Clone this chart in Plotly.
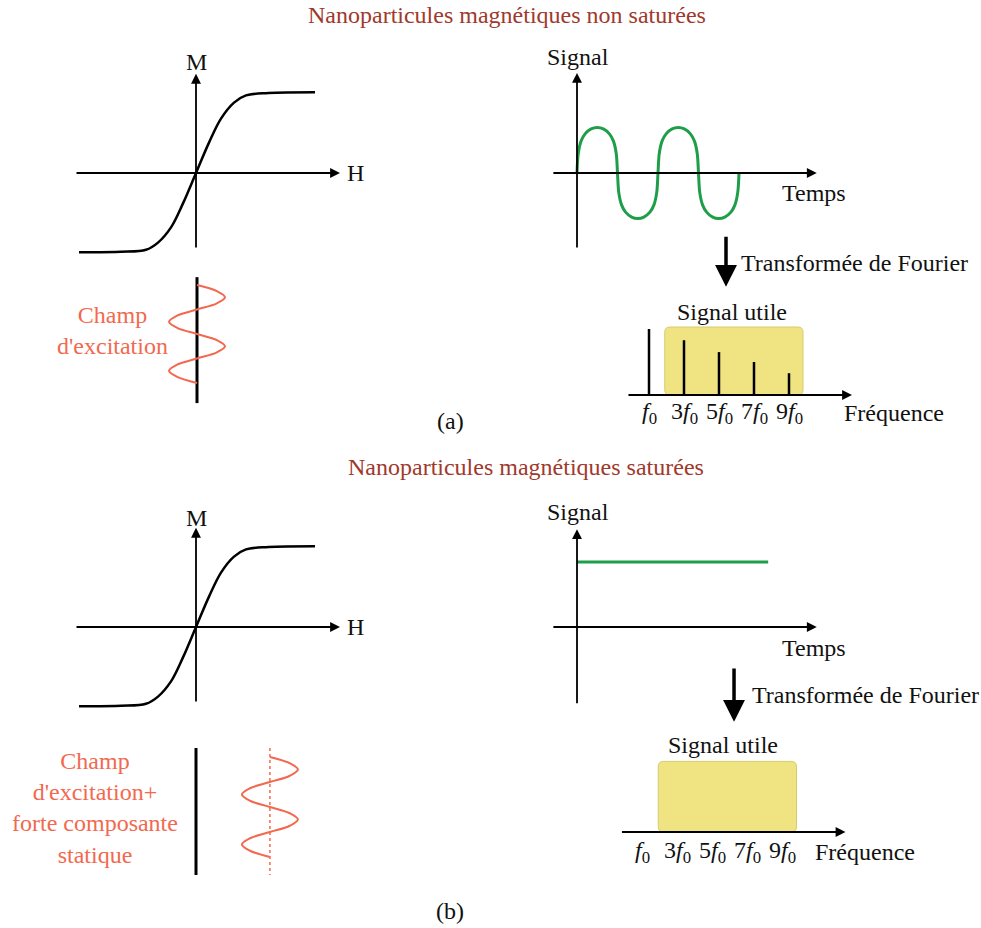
import plotly.graph_objects as go

W, H = 981, 928
FONT = "Liberation Serif, Times New Roman, serif"
FS = 24
RED = "#F2694F"
TITLE_RED = "#A0392C"
GREEN = "#1F9E4A"
YELLOW = "#F0E482"

# ---------------- data ----------------
# magnetisation curve M(H), normalised units
mh_h = [-2.34, -1.5, -1.0, -0.76, -0.5, -0.26, 0.0, 0.26, 0.5, 0.76, 1.0, 1.45, 2.38]
mh_m = [-0.99, -0.985, -0.96, -0.87, -0.68, -0.38, 0.0, 0.38, 0.68, 0.88, 0.97, 1.0, 1.01]

# excitation field (vertical sine), time in periods
exc_t = [0, 0.125, 0.25, 0.375, 0.5, 0.625, 0.75, 0.875, 1.0,
         1.125, 1.25, 1.375, 1.5, 1.625, 1.75, 1.875, 2.0]
exc_v = [0, 0.71, 1.0, 0.71, 0, -0.71, -1.0, -0.71, 0,
         0.71, 1.0, 0.71, 0, -0.71, -1.0, -0.71, 0]
static_offset = 2.64

# response signal of non-saturated particles (time in periods)
sig_t = [0, 0.015, 0.05, 0.1, 0.175, 0.25, 0.325, 0.4, 0.45, 0.485, 0.5,
         0.515, 0.55, 0.6, 0.675, 0.75, 0.825, 0.9, 0.95, 0.985, 1.0,
         1.015, 1.05, 1.1, 1.175, 1.25, 1.325, 1.4, 1.45, 1.485, 1.5,
         1.515, 1.55, 1.6, 1.675, 1.75, 1.825, 1.9, 1.95, 1.985, 2.0]
sig_v = [0, 0.42, 0.7, 0.86, 0.97, 1.0, 0.97, 0.86, 0.7, 0.42, 0,
         -0.42, -0.7, -0.86, -0.97, -1.0, -0.97, -0.86, -0.7, -0.42, 0,
         0.42, 0.7, 0.86, 0.97, 1.0, 0.97, 0.86, 0.7, 0.42, 0,
         -0.42, -0.7, -0.86, -0.97, -1.0, -0.97, -0.86, -0.7, -0.42, 0]

# saturated particles: constant signal
sat_t = [0.0, 2.36]
sat_v = [1.43, 1.43]

# spectrum (harmonic number, amplitude)
harmonics = [1, 3, 5, 7, 9]
harm_labels = ["<i>f</i><sub>0</sub>", "3<i>f</i><sub>0</sub>", "5<i>f</i><sub>0</sub>",
               "7<i>f</i><sub>0</sub>", "9<i>f</i><sub>0</sub>"]
amp_a = [1.0, 0.83, 0.65, 0.5, 0.33]
useful_band = [1.9, 9.8]

# ---------------- figure / panels ----------------
fig = go.Figure()
layout = dict(width=W, height=H, margin=dict(l=0, r=0, t=0, b=0),
              paper_bgcolor="white", plot_bgcolor="rgba(0,0,0,0)",
              showlegend=False, font=dict(family=FONT, size=FS, color="#111"))


def axn(i):
    return ("x" if i == 1 else f"x{i}"), ("y" if i == 1 else f"y{i}")


def add_panel(i, box, origin, scale, yflip=False):
    x0, y0, x1, y1 = box
    ox, oy = origin
    sx, sy = scale
    xr = [(x0 - ox) / sx, (x1 - ox) / sx]
    if yflip:
        yr = [(y1 - oy) / sy, (y0 - oy) / sy]
    else:
        yr = [(oy - y1) / sy, (oy - y0) / sy]
    xa, ya = axn(i)
    layout["xaxis" if i == 1 else f"xaxis{i}"] = dict(
        domain=[x0 / W, x1 / W], range=xr, visible=False, anchor=ya, fixedrange=True)
    layout["yaxis" if i == 1 else f"yaxis{i}"] = dict(
        domain=[1 - y1 / H, 1 - y0 / H], range=yr, visible=False, anchor=xa, fixedrange=True)


add_panel(1, (60, 50, 380, 262), (196, 173), (50, 80))
add_panel(2, (60, 500, 380, 715), (196, 627), (50, 80))
add_panel(3, (100, 270, 250, 410), (197, 285), (28, 49), yflip=True)
add_panel(4, (180, 740, 320, 880), (196, 757), (28, 50), yflip=True)
add_panel(5, (530, 40, 870, 260), (577, 173), (81, 45.5))
add_panel(6, (530, 495, 870, 715), (577, 627), (81, 45.5))
add_panel(7, (600, 225, 981, 430), (631.5, 395), (17.5, 66))
add_panel(8, (600, 655, 981, 870), (625, 832), (17.5, 66))

annotations = []
shapes = []


def arrow(i, x0, y0, x1, y1, width=1.8, size=1.1, head=2):
    xa, ya = axn(i)
    annotations.append(dict(x=x1, y=y1, ax=x0, ay=y0, xref=xa, yref=ya, axref=xa, ayref=ya,
                            showarrow=True, arrowhead=head, arrowsize=size, arrowwidth=width,
                            arrowcolor="black", text=""))


def label(i, x, y, text, xanchor="center", color="#111", size=FS):
    xa, ya = axn(i)
    annotations.append(dict(x=x, y=y, xref=xa, yref=ya, text=text, showarrow=False,
                            xanchor=xanchor, yanchor="middle",
                            font=dict(family=FONT, size=size, color=color)))


def plabel(px, py, text, color="#111", size=FS, align="center"):
    annotations.append(dict(x=px / W, y=1 - py / H, xref="paper", yref="paper", text=text,
                            showarrow=False, xanchor="center", yanchor="middle", align=align,
                            font=dict(family=FONT, size=size, color=color)))


def line(i, x, y, color="black", width=2.5, dash="solid", shape="linear", smoothing=1.0):
    xa, ya = axn(i)
    ln = dict(color=color, width=width, dash=dash, shape=shape)
    if shape == "spline":
        ln["smoothing"] = smoothing
    fig.add_trace(go.Scatter(x=x, y=y, xaxis=xa, yaxis=ya, mode="lines", hoverinfo="skip",
                             line=ln))


# ---- M(H) curves ----
for i, my in ((1, 1.39), (2, 1.36)):
    arrow(i, -2.42, 0, 2.88, 0)
    arrow(i, 0, -0.95, 0, 1.24)
    line(i, mh_h, mh_m, width=2.5, shape="spline")
    label(i, 0, my, "M")
    label(i, 3.18, 0, "H")

# ---- excitation fields ----
line(3, [0, 0], [-0.16, 2.41], width=3)
line(3, exc_v, exc_t, color=RED, width=2, shape="spline")
line(4, [0, 0], [-0.18, 2.36], width=3)
line(4, [static_offset, static_offset], [-0.18, 2.36], color=RED, width=1.5, dash="dot")
line(4, [static_offset + v for v in exc_v], exc_t, color=RED, width=2, shape="spline")

plabel(112, 330, "Champ<br>d'excitation", color=RED)
plabel(95, 808, "Champ<br>d'excitation+<br>forte composante<br>statique", color=RED)

# ---- time signals ----
for i, sy, ty in ((5, 2.55, -0.44), (6, 2.53, -0.46)):
    arrow(i, -0.31, 0, 2.96, 0)
    label(i, 0.01, sy, "Signal")
    label(i, 2.92, ty, "Temps")
arrow(5, 0, -1.67, 0, 2.2)
arrow(6, 0, -1.71, 0, 2.15)
line(5, sig_t, sig_v, color=GREEN, width=3, shape="spline", smoothing=0.8)
line(6, sat_t, sat_v, color=GREEN, width=3)


# ---- spectra ----
def band(i, top):
    xa, ya = axn(i)
    x0, x1 = useful_band
    rx, ry = 0.3, 0.08
    path = (f"M{x0 + rx},0 L{x1 - rx},0 Q{x1},0 {x1},{ry} L{x1},{top - ry} "
            f"Q{x1},{top} {x1 - rx},{top} L{x0 + rx},{top} Q{x0},{top} {x0},{top - ry} "
            f"L{x0},{ry} Q{x0},0 {x0 + rx},0 Z")
    shapes.append(dict(type="path", path=path, xref=xa, yref=ya, fillcolor=YELLOW,
                       line=dict(color="#D6CB6C", width=1), layer="below"))


band(7, 1.03)
band(8, 1.07)

sx_, sy_ = [], []
for h, a in zip(harmonics, amp_a):
    sx_ += [h, h, None]
    sy_ += [0, a, None]
line(7, sx_, sy_, width=2.5)

for i, fx_text, fy_text, ay0, ay1, ax_, su_x, su_y, ticky, freqx in (
        (7, 6.14, 2.0, 2.42, 1.64, 5.4, 5.74, 1.26, -0.27, 12.03),
        (8, 7.14, 2.08, 2.5, 1.67, 6.23, 5.6, 1.32, -0.30, 10.74)):
    arrow(i, -0.26, 0, 12.6, 0)
    arrow(i, ax_, ay0, ax_, ay1, width=3.5, size=1.25, head=2)
    label(i, fx_text, fy_text, "Transformée de Fourier", xanchor="left")
    label(i, su_x, su_y, "Signal utile")
    for h, t in zip(harmonics, harm_labels):
        label(i, h, ticky, t)
    label(i, freqx, ticky, "Fréquence", xanchor="left")

# ---- titles ----
plabel(507, 15, "Nanoparticules magnétiques non saturées", color=TITLE_RED)
plabel(526, 467, "Nanoparticules magnétiques saturées", color=TITLE_RED)
plabel(450, 421, "(a)")
plabel(450, 911, "(b)")

layout["annotations"] = annotations
layout["shapes"] = shapes
fig.update_layout(**layout)
fig.write_html("out.html", config={"displayModeBar": False},
               post_script="document.body.style.margin='0';document.body.style.overflow='hidden';")
